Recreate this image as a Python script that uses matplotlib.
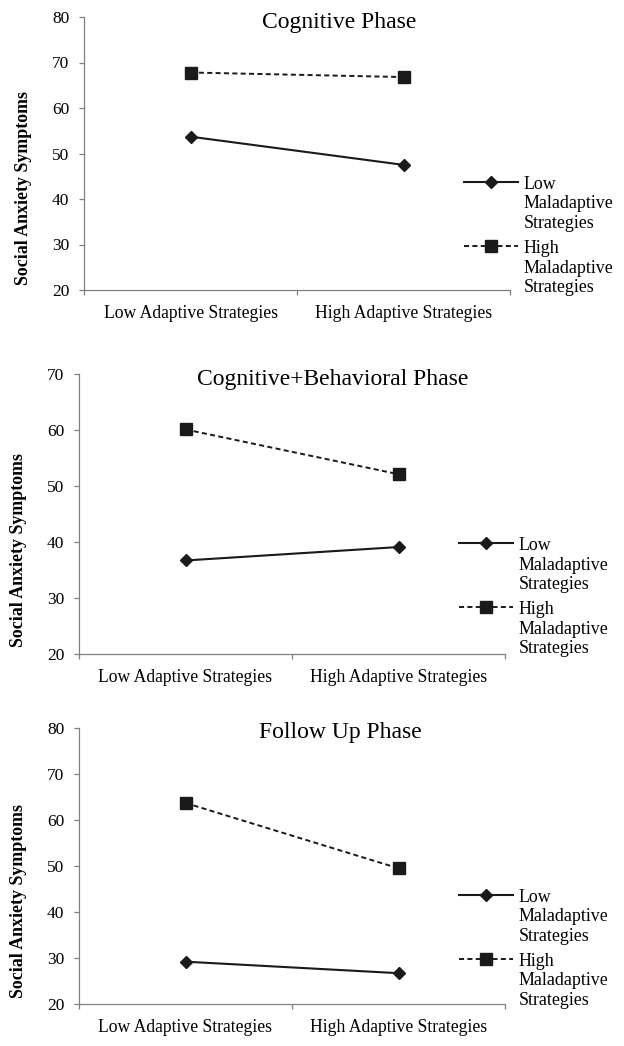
import matplotlib.pyplot as plt
from matplotlib.ticker import FixedLocator

plt.rcParams['font.family'] = ['Liberation Serif', 'DejaVu Serif']

categories = ['Low Adaptive Strategies', 'High Adaptive Strategies']
series_labels = ['Low\nMaladaptive\nStrategies', 'High\nMaladaptive\nStrategies']

titles = ['Cognitive Phase', 'Cognitive+Behavioral Phase', 'Follow Up Phase']
low_mal = [[53.7, 47.5], [36.7, 39.1], [29.2, 26.7]]
high_mal = [[67.8, 66.8], [60.1, 52.1], [63.7, 49.5]]
y_max = [80, 70, 80]

# axes rectangles in figure fractions (left, bottom, width, height)
rects = [[84 / 624, 1 - 290 / 1046, 426 / 624, 273 / 1046],
         [79 / 624, 1 - 654 / 1046, 426 / 624, 280 / 1046],
         [79 / 624, 1 - 1004 / 1046, 426 / 624, 276 / 1046]]
title_x = [0.60, 0.596, 0.613]
title_y = [0.98, 0.981, 0.984]

ink = '#1a1a1a'
axis_col = '#808080'

fig = plt.figure(figsize=(6.24, 10.46), dpi=100)

for i in range(3):
    ax = fig.add_axes(rects[i])
    x = list(range(len(categories)))
    ax.plot(x, low_mal[i], color=ink, lw=1.5, marker='D', ms=5.8,
            label=series_labels[0])
    ax.plot(x, high_mal[i], color=ink, lw=1.4, ls=(0, (2.6, 1.7)), marker='s',
            ms=8.5, label=series_labels[1])

    ax.set_xlim(-0.5, 1.5)
    ax.set_ylim(20, y_max[i])
    ax.set_yticks(range(20, y_max[i] + 1, 10))
    ax.set_xticks(x)
    ax.set_xticklabels(categories, fontsize=12.7)
    ax.xaxis.set_minor_locator(FixedLocator([-0.5, 0.5, 1.5]))
    ax.tick_params(axis='x', which='major', length=0, pad=11)
    ax.tick_params(axis='x', which='minor', length=3.5, color=axis_col, width=0.9)
    ax.tick_params(axis='y', length=3.5, color=axis_col, width=0.9,
                   labelsize=12.5, pad=7)

    for s in ['top', 'right']:
        ax.spines[s].set_visible(False)
    for s in ['left', 'bottom']:
        ax.spines[s].set_color(axis_col)
        ax.spines[s].set_linewidth(0.9)

    ax.text(title_x[i], title_y[i], titles[i], transform=ax.transAxes,
            ha='center', va='center', fontsize=17)
    ax.text(-0.142, 0.373, 'Social Anxiety Symptoms', transform=ax.transAxes,
            rotation=90, ha='center', va='center', fontsize=12.9, fontweight='bold')

    leg = ax.legend(loc='upper left', bbox_to_anchor=(0.893, 0.418), frameon=False,
                    fontsize=12.9, handlelength=3.0, handletextpad=0.3,
                    labelspacing=0.45, borderaxespad=0, borderpad=0)
    # put the legend key beside the first line of each label
    for col in leg._legend_handle_box.get_children():
        for item in col.get_children():
            item.align = 'top'

fig.savefig('out.png', dpi=100)
